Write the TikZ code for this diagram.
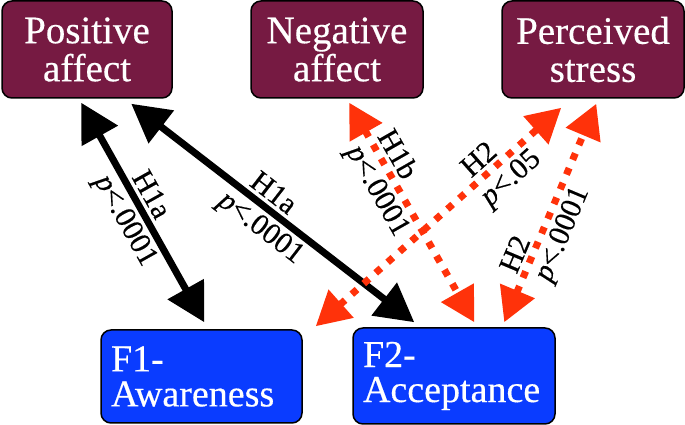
\documentclass[tikz,border=0pt]{standalone}
\usepackage{fontspec}
\setmainfont{Liberation Serif}
\newfontfamily\timesfam{Liberation Serif}[FakeBold=0.4]
\usetikzlibrary{arrows.meta,calc}
\definecolor{boxmaroon}{RGB}{118,26,66}
\definecolor{boxblue}{RGB}{10,60,255}
\definecolor{dotred}{RGB}{255,50,10}
\begin{document}
\begin{tikzpicture}[x=1pt,y=1pt,
  topbox/.style={draw=black, line width=1.5pt, rounded corners=10pt, fill=boxmaroon, text=white,
    font=\timesfam\fontsize{39}{38}\selectfont, align=center, minimum height=97pt, inner sep=0pt},
  botbox/.style={draw=black, line width=1.5pt, rounded corners=10pt, fill=boxblue, text=white,
    font=\timesfam\fontsize{38}{35}\selectfont, align=left, inner xsep=10pt, inner ysep=0pt},
  blackarrow/.style={line width=7pt, draw=black,
    {Triangle[length=38pt,width=40pt]}-{Triangle[length=38pt,width=40pt]}},
  redarrow/.style={line width=7pt, draw=dotred, dash pattern=on 7pt off 9pt,
    {Triangle[length=34pt,width=36pt]}-{Triangle[length=34pt,width=36pt]}},
  lab/.style={font=\timesfam\fontsize{30}{30}\selectfont, text=black, sloped, inner sep=3.5pt},
]
\fill[white] (0,0) rectangle (685,425);
\useasboundingbox (0,0) rectangle (685,425);

\node[topbox, minimum width=170pt] (PA) at (87,375.5) {Positive\\affect};
\node[topbox, minimum width=172pt] (NA) at (337,375.5) {Negative\\affect};
\node[topbox, minimum width=182pt] (PS) at (593,375.5) {Perceived\\stress};
\node[botbox, text width=181pt, minimum height=93pt] (F1) at (201.5,48.5) {F1-\\Awareness};
\node[botbox, text width=182pt, minimum height=96pt] (F2) at (454,49) {F2-\\Acceptance};

% black arrows
\draw[blackarrow] ($(PA.south west)+(80,-4)$) -- ($(F1.north west)+(104,7)$)
  node[lab, above, pos=0.455] {H1a}
  node[lab, below, pos=0.494] {\textit{p}<.0001};
\draw[blackarrow] ($(PA.south west)+(130,-5)$) -- ($(F2.north west)+(62,5)$)
  node[lab, above, pos=0.468] {H1a}
  node[lab, below, pos=0.499] {\textit{p}<.0001};

% red dotted arrows
\draw[redarrow] ($(NA.south west)+(99,-4)$) -- ($(F2.north west)+(122,5)$)
  node[lab, above, pos=0.272] {H1b}
  node[lab, below, pos=0.358] {\textit{p}<.0001};
\draw[redarrow] ($(F1.north east)+(13,3)$) -- ($(PS.south west)+(60,-9)$)
  node[lab, above, pos=0.708] {H2}
  node[lab, below, pos=0.743] {\textit{p}<.05};
\draw[redarrow] ($(F2.north west)+(152,5)$) -- ($(PS.south west)+(95,-5)$)
  node[lab, above, pos=0.282] {H2}
  node[lab, below, pos=0.4375] {\textit{p}<.0001};
\end{tikzpicture}
\end{document}
